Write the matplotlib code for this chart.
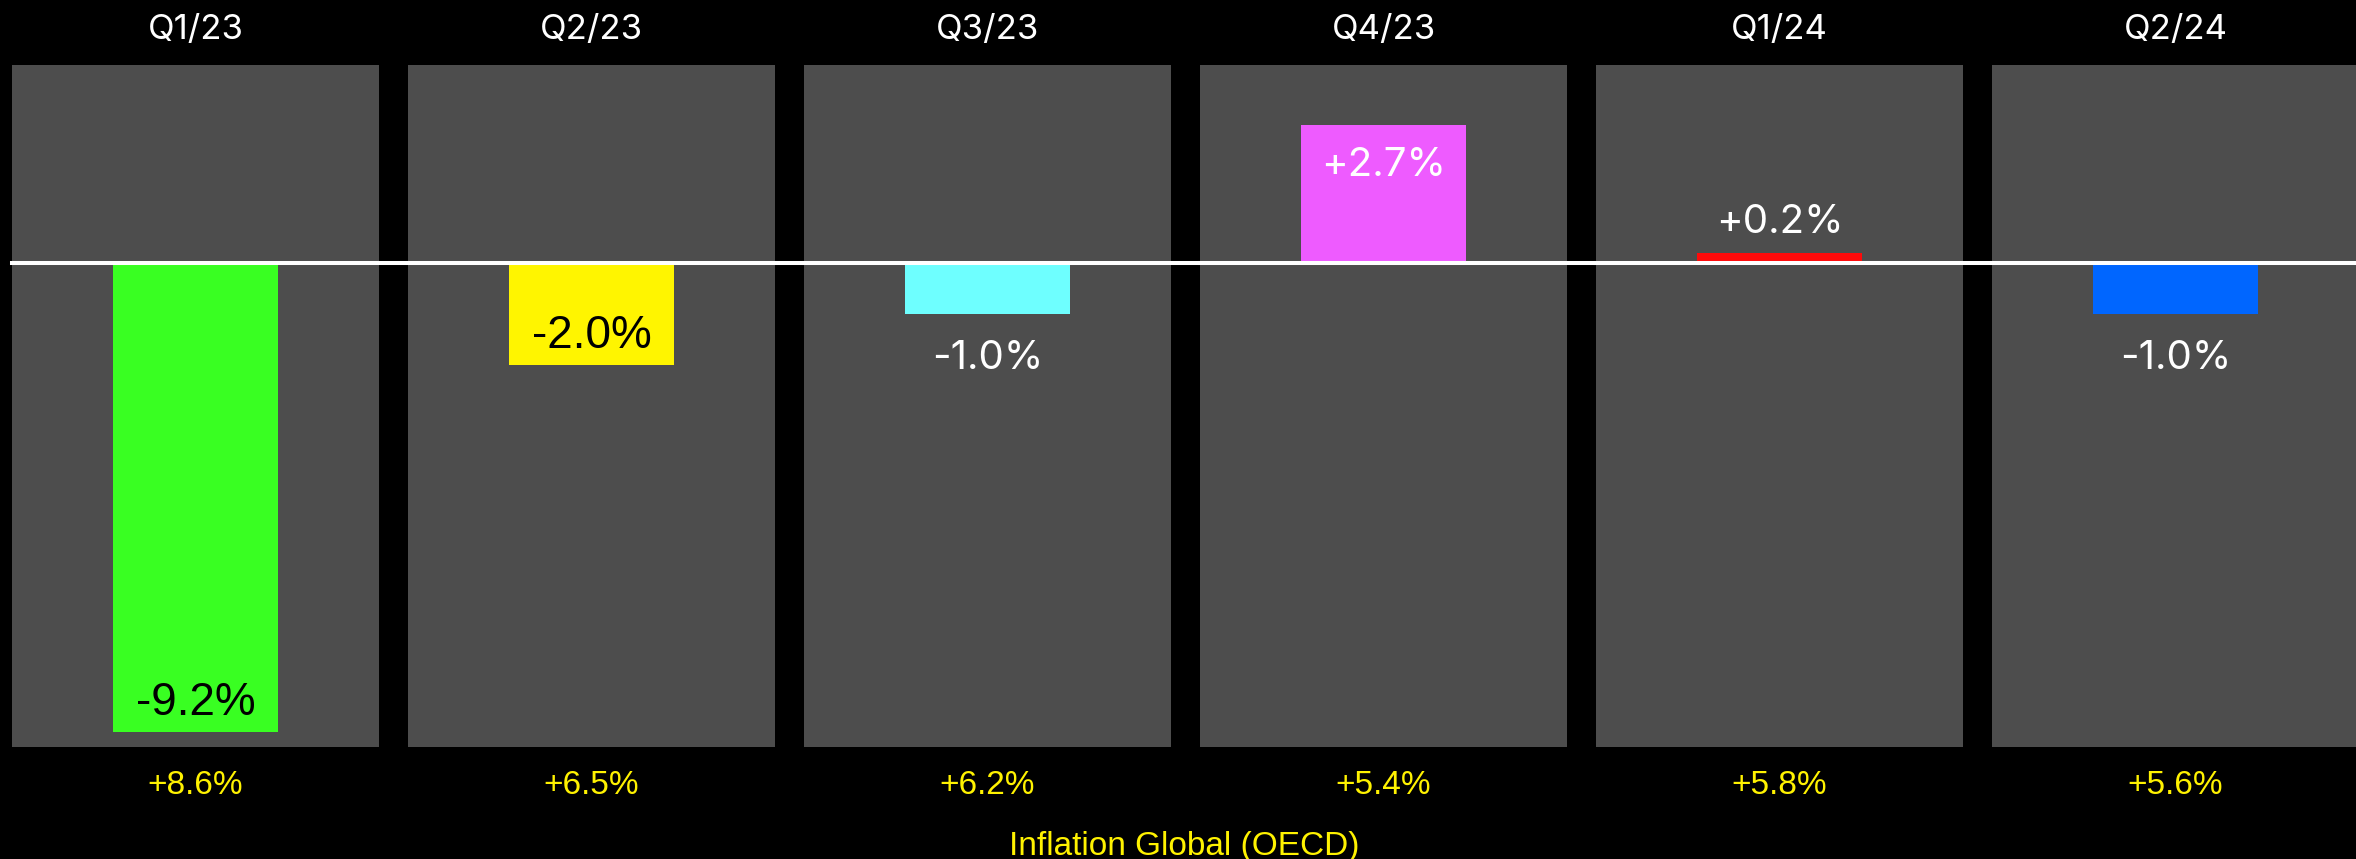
import matplotlib
matplotlib.use("Agg")
import matplotlib.pyplot as plt

# ---- data ----
quarters = ["Q1/23", "Q2/23", "Q3/23", "Q4/23", "Q1/24", "Q2/24"]
changes = [-9.2, -2.0, -1.0, 2.7, 0.2, -1.0]
inflation = ["+8.6%", "+6.5%", "+6.2%", "+5.4%", "+5.8%", "+5.6%"]
bar_colors = ["#39FF22", "#FFF500", "#6EFFFF", "#EE5BFF", "#FF0A0A", "#0066FF"]
inside_text_colors = ["black", "black", "black", "white", "white", "white"]
title = "Inflation Global (OECD)"

plt.rcParams['font.family'] = ['Inter', 'DejaVu Sans']
ARIAL = ['Liberation Sans', 'DejaVu Sans']

W, H = 2356, 859
fig = plt.figure(figsize=(W / 100, H / 100), dpi=100, facecolor="black")

panel_left0 = 12
panel_w = 367
pitch = 396
panel_top = 65
panel_bot = 747
ylim = (-9.5, 3.88)
bar_w = 0.452

for i, (q, v, inf) in enumerate(zip(quarters, changes, inflation)):
    left = (panel_left0 + i * pitch) / W
    ax = fig.add_axes([left, 1 - panel_bot / H, panel_w / W, (panel_bot - panel_top) / H])
    ax.set_facecolor("#4D4D4D")
    ax.set_xlim(-0.5, 0.5)
    ax.set_ylim(*ylim)
    for s in ax.spines.values():
        s.set_visible(False)
    ax.set_xticks([])
    ax.set_yticks([])
    ax.bar(0, v, width=bar_w, color=bar_colors[i], zorder=2)
    xmax = pitch / panel_w if i < len(quarters) - 1 else 1.2
    ax.axhline(0, xmin=0, xmax=xmax, color="white", lw=2.9, zorder=3, clip_on=False)

    label = f"{v:+.1f}%"
    if abs(v) >= 2:
        if v < 0:
            ax.annotate(label, (0, v), xytext=(0, 5), textcoords="offset points",
                        ha="center", va="bottom", fontsize=33, family=ARIAL,
                        color=inside_text_colors[i], zorder=4)
        else:
            ax.annotate(label, (0, v), xytext=(0, -16), textcoords="offset points",
                        ha="center", va="top", fontsize=29, color=inside_text_colors[i], zorder=4)
    else:
        if v < 0:
            ax.annotate(label, (0, v), xytext=(0, -19), textcoords="offset points",
                        ha="center", va="top", fontsize=29, color="white", zorder=4)
        else:
            ax.annotate(label, (0, v), xytext=(0, 8), textcoords="offset points",
                        ha="center", va="bottom", fontsize=29, color="white", zorder=4)

    cx = (panel_left0 + i * pitch + panel_w / 2) / W
    fig.text(cx, 1 - 30 / H, q, ha="center", va="center", fontsize=25, color="white")
    fig.text(cx, 1 - 785 / H, inf, ha="center", va="center", fontsize=24, family=ARIAL,
             color="#FFF200")

fig.text(1184 / W, 1 - 846 / H, title, ha="center", va="center", fontsize=24, family=ARIAL,
         color="#FFF200")

fig.savefig("out.png", dpi=100, facecolor="black")
